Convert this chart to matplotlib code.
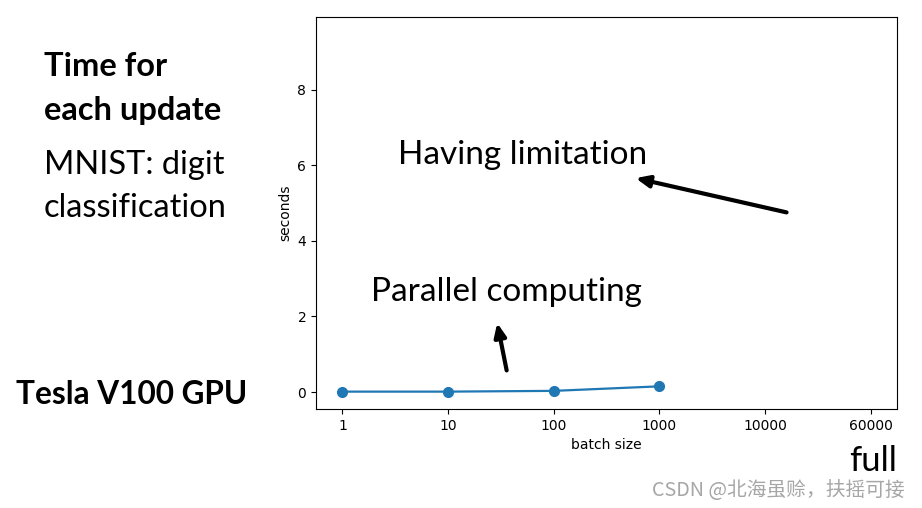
import matplotlib.pyplot as plt
import numpy as np

plt.rcParams['font.family'] = ['DejaVu Sans']

batch_labels = ["1", "10", "100", "1000", "10000", "60000"]
seconds = [0.01, 0.01, 0.03, 0.15]

fig = plt.figure(figsize=(9.22, 5.08), dpi=100)
ax = fig.add_axes([316 / 922, 1 - 409 / 508, (897 - 316) / 922, (409 - 17) / 508])

x = np.arange(len(seconds))
ax.plot(x, seconds, 'o-', color='#1f77b4', markersize=7, linewidth=1.6)
ax.set_xticks(np.arange(len(batch_labels)))
ax.set_xticklabels(batch_labels)
ax.set_xlim(-0.25, 5.25)
ax.set_ylim(-0.45, 9.93)
ax.set_yticks([0, 2, 4, 6, 8])
ax.set_xlabel("batch size", labelpad=4)
ax.set_ylabel("seconds")

# annotations
ax.annotate("", xy=(2.75, 5.68), xytext=(4.23, 4.74),
            arrowprops=dict(arrowstyle='-|>,head_width=0.35,head_length=0.8', color='black', lw=3))
ax.text(0.53, 6.28, "Having limitation", fontsize=24, family='Lato', va='center')
ax.annotate("", xy=(1.46, 1.9), xytext=(1.56, 0.5),
            arrowprops=dict(arrowstyle='-|>,head_width=0.35,head_length=0.8', color='black', lw=3))
ax.text(0.27, 2.65, "Parallel computing", fontsize=24, family='Lato', va='center')

# side text
fig.text(44 / 922, 1 - 67 / 508, "Time for", fontsize=23.5, family='Lato', weight='bold', va='center')
fig.text(44 / 922, 1 - 110 / 508, "each update", fontsize=23.5, family='Lato', weight='bold', va='center')
fig.text(44 / 922, 1 - 165 / 508, "MNIST: digit", fontsize=23.5, family='Lato', va='center')
fig.text(44 / 922, 1 - 208 / 508, "classification", fontsize=23.5, family='Lato', va='center')
fig.text(16 / 922, 1 - 395 / 508, "Tesla V100 GPU", fontsize=22.7, family='Lato', weight='bold', va='center')
fig.text(897 / 922, 1 - 461 / 508, "full", fontsize=25, family='Lato', ha='right', va='center')
fig.text(905 / 922, 1 - 490 / 508, "CSDN @北海虽赊，扶摇可接", fontsize=14.2, color='#a6a6a6',
         family=['Noto Sans CJK SC', 'DejaVu Sans'], ha='right', va='center')

fig.savefig("out.png", dpi=100)
